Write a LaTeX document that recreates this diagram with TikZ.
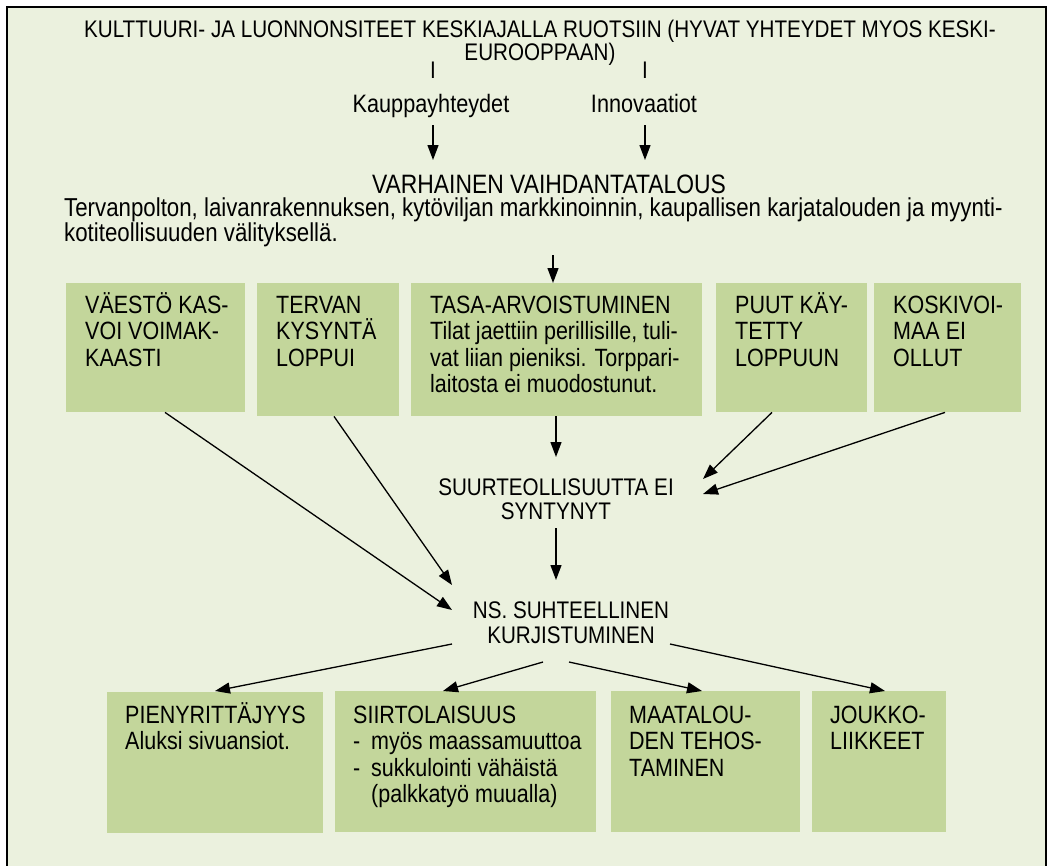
\documentclass[tikz,border=0pt]{standalone}
\usepackage{fontspec}
\setmainfont{Liberation Sans}[FakeStretch=0.86]
\usetikzlibrary{arrows.meta,calc}
\definecolor{paper}{HTML}{EBF1DE}
\definecolor{boxfill}{HTML}{C3D69B}
\newcommand{\fstrut}{\rule{0pt}{25pt}}
\newcommand{\lowstrut}{\rule{0pt}{21pt}}
\begin{document}
\begin{tikzpicture}[x=1pt,y=-1pt,
  every node/.style={inner sep=0pt,text=black},
  txt/.style={font=\fontsize{24}{26}\selectfont},
  boxtxt/.style={font=\fontsize{25}{26.5}\selectfont},
  gbox/.style={fill=boxfill,draw=none,anchor=north west,minimum width=#1},
  gtext/.style={boxtxt,anchor=north west,align=left},
  arr/.style={line width=1.3pt,-{Triangle[length=15pt,width=11pt]}}]
% page, background and frame
\useasboundingbox (0,0) rectangle (1047,865);
\fill[white] (0,0) rectangle (1047,865);
\fill[paper] (7,7) rectangle (1045.5,866);
\draw[line width=2pt] (7,866) -- (7,7) -- (1045.5,7) -- (1045.5,866);

% header
\node[txt,font=\fontsize{24}{22}\selectfont,anchor=north,align=center] (title) at (540,12)
  {\fstrut KULTTUURI- JA LUONNONSITEET KESKIAJALLA RUOTSIIN (HYVAT YHTEYDET MYOS KESKI-\\EUROOPPAAN)};
\node[txt,anchor=base] (tickA) at (433,78) {I};
\node[txt,anchor=base] (tickB) at (645,78) {I};
\node[txt,font=\fontsize{25.2}{26}\selectfont,anchor=base] (kaup) at (431,112) {Kauppayhteydet};
\node[txt,font=\fontsize{25.2}{26}\selectfont,anchor=base] (innov) at (644,112) {Innovaatiot};
\node[txt,font=\fontsize{26.6}{26}\selectfont,anchor=north] (varh) at (549,168) {\fstrut VARHAINEN VAIHDANTATALOUS};
\node[txt,font=\fontsize{25.9}{25}\selectfont,anchor=north west,align=left] (long) at (64,195)
  {\lowstrut Tervanpolton, laivanrakennuksen, kytöviljan markkinoinnin, kaupallisen karjatalouden ja myynti-\\kotiteollisuuden välityksellä.};

% upper row of factors
\node[gbox=179pt,minimum height=129pt] (b1) at (66,283) {};
\node[gbox=142pt,minimum height=133pt] (b2) at (257,283) {};
\node[gbox=291pt,minimum height=133pt] (b3) at (411,283) {};
\node[gbox=151pt,minimum height=129pt] (b4) at (716,283) {};
\node[gbox=147pt,minimum height=129pt] (b5) at (874,283) {};
\node[gtext] (b1t) at ([shift={(19,5)}]b1.north west) {\fstrut VÄESTÖ KAS-\\VOI VOIMAK-\\KAASTI};
\node[gtext] (b2t) at ([shift={(19,5)}]b2.north west) {\fstrut TERVAN\\KYSYNTÄ\\LOPPUI};
\node[gtext] (b3t) at ([shift={(19,5)}]b3.north west) {\fstrut TASA-ARVOISTUMINEN\\Tilat jaettiin perillisille, tuli-\\vat liian pieniksi. Torppari-\\laitosta ei muodostunut.};
\node[gtext] (b4t) at ([shift={(19,5)}]b4.north west) {\fstrut PUUT KÄY-\\TETTY\\LOPPUUN};
\node[gtext] (b5t) at ([shift={(19,5)}]b5.north west) {\fstrut KOSKIVOI-\\MAA EI\\OLLUT};

% middle statements
\node[txt,font=\fontsize{24}{24}\selectfont,anchor=north,align=center] (suur) at (556,470) {\fstrut SUURTEOLLISUUTTA EI\\SYNTYNYT};
\node[txt,font=\fontsize{24}{25}\selectfont,anchor=north,align=center] (ns) at (571,593) {\fstrut NS. SUHTEELLINEN\\KURJISTUMINEN};

% lower row of consequences
\node[gbox=216pt,minimum height=141pt] (b6) at (107,692) {};
\node[gbox=261pt,minimum height=141pt] (b7) at (335,691) {};
\node[gbox=189pt,minimum height=141pt] (b8) at (611,691) {};
\node[gbox=134pt,minimum height=141pt] (b9) at (812,691) {};
\node[gtext] (b6t) at ([shift={(18,6)}]b6.north west) {\fstrut PIENYRITTÄJYYS\\Aluksi sivuansiot.};
\node[gtext] (b7t) at ([shift={(18,7)}]b7.north west) {\fstrut SIIRTOLAISUUS\\\makebox[18pt][l]{-}myös maassamuuttoa\\\makebox[18pt][l]{-}sukkulointi vähäistä\\\hspace*{18pt}(palkkatyö muualla)};
\node[gtext] (b8t) at ([shift={(18,7)}]b8.north west) {\fstrut MAATALOU-\\DEN TEHOS-\\TAMINEN};
\node[gtext] (b9t) at ([shift={(18,7)}]b9.north west) {\fstrut JOUKKO-\\LIIKKEET};

% connectors
\draw[arr] ($(kaup.base)+(2,13)$) -- ($(varh.north)+(-116,-8)$);
\draw[arr] ($(innov.base)+(1,13)$) -- ($(varh.north)+(96,-8)$);
\draw[arr] ($(long.north west)+(489,60)$) -- ($(b3.north west)+(142,0)$);
\draw[arr] ($(b3.south west)+(145,0)$) -- ($(suur.north)+(0,-13)$);
\draw[arr] ($(b4.south west)+(56,0)$) -- ($(suur.north)+(147,9)$);
\draw[arr] ($(b5.south west)+(71,0)$) -- ($(suur.north)+(147,24)$);
\draw[arr] ($(suur.north)+(0,58)$) -- ($(ns.north)+(-15,-13)$);
\draw[arr] ($(b1.south west)+(99,0)$) -- ($(ns.north)+(-119,17)$);
\draw[arr] ($(b2.south west)+(77,0)$) -- ($(ns.north)+(-119,-8)$);
\draw[arr] ($(ns.north)+(-119,51)$) -- ($(b6.north west)+(108,-1)$);
\draw[arr] ($(ns.north)+(-28,69)$) -- ($(b7.north west)+(108,0)$);
\draw[arr] ($(ns.north)+(-2,69)$) -- ($(b8.north west)+(91,0)$);
\draw[arr] ($(ns.north)+(99,51)$) -- ($(b9.north west)+(73,0)$);
\end{tikzpicture}
\end{document}
